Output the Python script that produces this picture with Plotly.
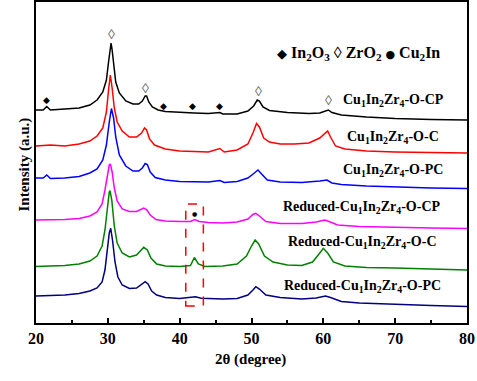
import plotly.graph_objects as go

# ---------------- data ----------------
theta_cp = [20, 21.0, 21.5, 22.0, 24, 26, 27.5, 28.5, 29.3, 29.8, 30.1, 30.3, 30.45, 30.6, 30.8, 31.1, 31.6, 32.5, 33.5, 34.3,
            34.8, 35.2, 35.4, 35.7, 36.2, 37, 38, 40, 42, 44, 45.6, 46, 48, 49.5, 50.3, 50.8, 51.1, 51.6, 52.5, 55,
            58, 59.5, 60.3, 60.7, 61.2, 62.5, 66, 70, 75, 80]
int_cp = [213, 213, 216.5, 213, 214, 215, 218, 223, 231, 243, 261, 275, 280, 273, 257, 241, 230, 222, 219, 219,
          222, 227, 227, 221, 216, 213, 211.5, 210.5, 210, 209.5, 210.5, 209, 209, 212, 217, 223, 222, 216, 212.5, 210.5,
          209.5, 210, 212, 213, 210.5, 208, 206, 204.5, 203.5, 203]

theta_c = [20, 22, 24, 26, 27.5, 28.5, 29.3, 29.8, 30.1, 30.35, 30.6, 30.9, 31.3, 32, 33, 34, 34.7, 35.1, 35.4, 35.8,
           36.5, 38, 40, 42, 44, 45.6, 46.2, 48, 49.5, 50.2, 50.7, 51.1, 51.7, 52.5, 54, 56, 58, 59.5, 60.2, 60.6,
           61.0, 61.7, 63, 66, 70, 75, 80]
int_c = [177, 178, 177, 179, 182, 187, 195, 211, 233, 248, 235, 215, 201, 192, 186, 186, 190, 195, 193, 184,
         178, 174, 172, 171.5, 171, 174.5, 171, 173, 179, 190, 199.5, 196, 185, 181, 179, 179, 180, 185, 190, 192,
         186, 177, 174, 172, 171, 170.5, 170]

theta_pc = [20, 21.0, 21.5, 22.0, 24, 26, 27.5, 28.5, 29.3, 29.8, 30.2, 30.5, 30.8, 31.1, 31.6, 32.5, 33.5, 34.3, 34.8, 35.2,
            35.5, 35.9, 36.6, 38, 40, 42, 44, 45.6, 46.2, 48, 49.5, 50.4, 50.9, 51.4, 52.2, 54, 57, 59.5, 60.5, 61.2,
            62.5, 66, 70, 75, 80]
int_pc = [145, 145, 148, 144.5, 145, 146.5, 150, 154, 163, 178, 201, 214.5, 205, 186, 168, 157, 152, 152, 155, 159.5,
          158.5, 151, 145.5, 143, 141.5, 141, 141, 142.5, 140.5, 141.5, 145, 150, 153, 149, 143, 141, 140.5, 142, 143, 140,
          138.5, 137, 136, 135, 134.5]

theta_rcp = [20, 22, 24, 26, 27.5, 28.5, 29.2, 29.6, 29.9, 30.2, 30.35, 30.6, 30.9, 31.3, 32, 33, 34, 34.6, 35.0, 35.4,
             35.9, 36.7, 38, 40, 41.5, 42.1, 42.7, 44, 46, 48, 49.5, 50.2, 50.6, 51.1, 52, 54, 57, 59, 60.2, 60.8,
             62, 65, 70, 75, 80]
int_rcp = [103, 103, 103.5, 104.5, 107, 111, 119, 133, 147, 158, 159, 151, 135, 122, 114, 111.5, 111.5, 113.5, 115, 113.5,
           108, 103.5, 102, 101.5, 101.5, 103.5, 101.5, 100.5, 100, 101, 104, 108.5, 109.7, 107, 101.5, 99.5, 99.5, 101, 103, 101.5,
           98, 96.5, 95.5, 95, 94.5]

theta_rc = [20, 22, 24, 26, 27.5, 28.5, 29.2, 29.6, 29.9, 30.2, 30.3, 30.55, 30.9, 31.3, 32, 33, 34, 34.6, 35.0, 35.5,
            36.0, 36.8, 38, 40, 41.5, 42.05, 42.6, 43.5, 46, 48, 49.3, 50.0, 50.5, 51.0, 51.8, 53, 55, 57, 58.5, 59.4,
            60.0, 60.6, 61.4, 63, 66, 70, 75, 80]
int_rc = [56.5, 57, 57.5, 59, 62, 67, 77, 93, 113, 131, 132.3, 123, 97, 80, 70, 66, 68, 73, 75.7, 73,
          65, 59, 57, 56.5, 57.5, 65.5, 59, 56.5, 57, 59, 67, 77, 83, 79, 67, 61, 58, 57.5, 61, 69,
          74.7, 70, 61, 57, 55.5, 55, 54, 53]

theta_rpc = [20, 22, 24, 26, 27.5, 28.5, 29.2, 29.6, 29.9, 30.2, 30.4, 30.65, 31.0, 31.4, 32, 33, 34, 34.7, 35.2, 35.6,
             36.1, 36.8, 38, 40, 42.2, 43, 46, 48, 49.5, 50.2, 50.6, 51.1, 52, 54, 57, 59, 60.3, 61, 62.5, 65,
             70, 75, 80]
int_rpc = [27, 27.5, 28, 29.5, 32, 35, 41, 53, 71, 90, 94.7, 83, 61, 46, 38, 34.5, 35, 39, 41.3, 39,
           32, 28, 25.5, 24.5, 26.2, 24.7, 24, 24.5, 28, 33, 36.3, 34, 28, 25.5, 24, 25, 27, 25.5, 21.5, 20,
           18.5, 17.5, 16.5]

series_names = ["Cu1In2Zr4-O-CP", "Cu1In2Zr4-O-C", "Cu1In2Zr4-O-PC",
                "Reduced-Cu1In2Zr4-O-CP", "Reduced-Cu1In2Zr4-O-C", "Reduced-Cu1In2Zr4-O-PC"]
series_theta = [theta_cp, theta_c, theta_pc, theta_rcp, theta_rc, theta_rpc]
series_int = [int_cp, int_c, int_pc, int_rcp, int_rc, int_rpc]
series_colors = ["#000000", "#ff0000", "#0000ff", "#ff00ff", "#008000", "#000080"]

label_texts = ["Cu<sub>1</sub>In<sub>2</sub>Zr<sub>4</sub>-O-CP",
               "Cu<sub>1</sub>In<sub>2</sub>Zr<sub>4</sub>-O-C",
               "Cu<sub>1</sub>In<sub>2</sub>Zr<sub>4</sub>-O-PC",
               "Reduced-Cu<sub>1</sub>In<sub>2</sub>Zr<sub>4</sub>-O-CP",
               "Reduced-Cu<sub>1</sub>In<sub>2</sub>Zr<sub>4</sub>-O-C",
               "Reduced-Cu<sub>1</sub>In<sub>2</sub>Zr<sub>4</sub>-O-PC"]
label_x = [69.7, 69.7, 69.7, 65.4, 65.4, 65.4]
label_y = [223, 186, 153, 116, 81, 37]

# phase markers: (2theta, intensity, symbol)
marker_theta = [21.5, 37.7, 41.8, 45.6, 30.5, 35.3, 51.0, 60.7, 42.1]
marker_int = [223, 217, 217, 217, 289, 235, 232, 223, 109.7]
marker_sym = ["◆", "◆", "◆", "◆", "◊", "◊", "◊", "◊", "●"]

box_x = [40.85, 43.3]
box_y = [17, 119]

FONT = "Liberation Serif"

fig = go.Figure()
for th, it, col, nm in zip(series_theta, series_int, series_colors, series_names):
    fig.add_trace(go.Scatter(x=th, y=it, mode="lines", name=nm,
                             line=dict(color=col, width=1.5), showlegend=False))

annotations = []
for t, x, y in zip(label_texts, label_x, label_y):
    annotations.append(dict(x=x, y=y, text="<b>" + t + "</b>", showarrow=False,
                            font=dict(family=FONT, size=14, color="black")))
for x, y, s in zip(marker_theta, marker_int, marker_sym):
    if s == "◊":
        fnt = dict(family=FONT, size=14, color="#666666")
    elif s == "●":
        fnt = dict(family="DejaVu Sans", size=6, color="black")
    else:
        fnt = dict(family="DejaVu Sans", size=9, color="black")
    annotations.append(dict(x=x, y=y, text=s, showarrow=False, font=fnt))
annotations.append(dict(x=64.9, y=270,
                        text="<b><span style='font-family:DejaVu Sans;font-size:13px'>◆</span> In<sub>2</sub>O<sub>3</sub> "
                             "<span style='font-weight:normal'>◊</span> ZrO<sub>2</sub> "
                             "<span style='font-family:DejaVu Sans;font-size:11px'>●</span> Cu<sub>2</sub>In</b>",
                        showarrow=False, font=dict(family=FONT, size=16, color="black")))
annotations.append(dict(xref="paper", yref="paper", x=(250 - 36) / 431, y=-(370 - 323) / 321,
                        text="<b>2θ (degree)</b>", showarrow=False,
                        font=dict(family=FONT, size=15, color="black")))
annotations.append(dict(xref="paper", yref="paper", x=-(36 - 14) / 431, y=(323 - 165) / 321,
                        text="<b>Intensity (a.u.)</b>", showarrow=False, textangle=-90,
                        font=dict(family=FONT, size=15, color="black")))

fig.add_shape(type="rect", x0=box_x[0], x1=box_x[1], y0=box_y[0], y1=box_y[1],
              line=dict(color="#ff0000", width=1.5, dash="dash"))

fig.update_layout(
    width=477, height=381,
    margin=dict(l=36, r=10, t=2, b=58, autoexpand=False),
    plot_bgcolor="white", paper_bgcolor="white",
    annotations=annotations,
    xaxis=dict(range=[20, 80], dtick=10, tick0=20, ticks="inside", ticklen=5, tickwidth=1.5,
               tickcolor="black", showline=True, linecolor="black", linewidth=1.5, mirror=True,
               showgrid=False, zeroline=False, automargin=False,
               tickfont=dict(family=FONT, size=16, color="black"),
               tickprefix="<b>", ticksuffix="</b>",
               minor=dict(dtick=5, ticks="inside", ticklen=3, tickwidth=1.5, tickcolor="black")),
    yaxis=dict(range=[0, 321], showticklabels=False, ticks="", showline=True, linecolor="black",
               linewidth=1.5, mirror=True, showgrid=False, zeroline=False, automargin=False),
)

fig.write_html("out.html", config={"displayModeBar": False},
               post_script="document.body.style.margin='0';document.body.style.padding='0';")
